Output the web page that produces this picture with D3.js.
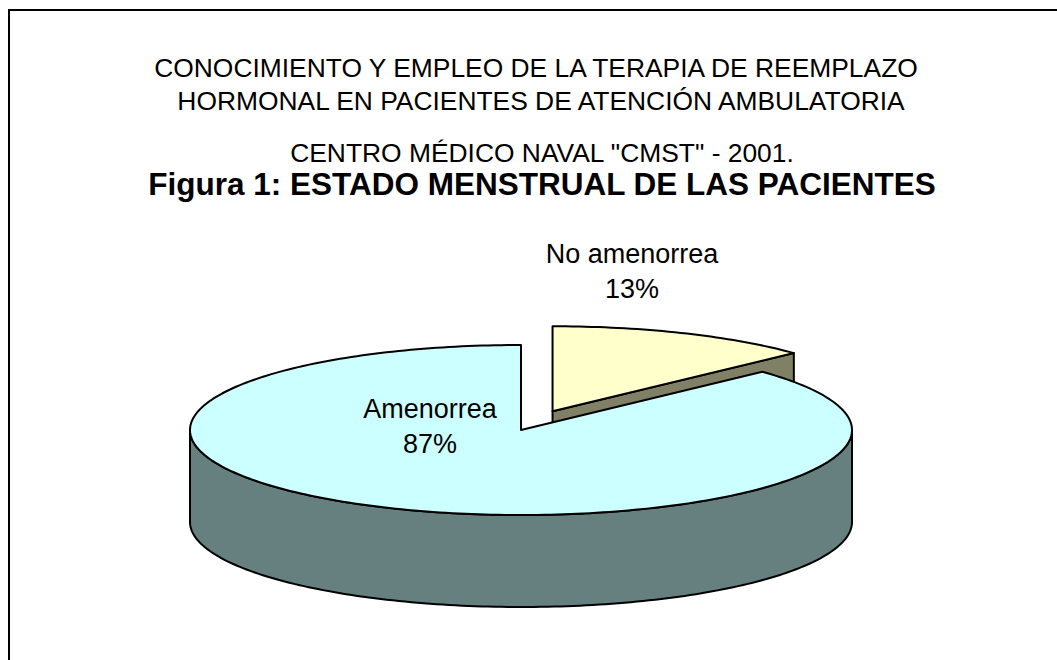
<!DOCTYPE html>
<html>
<head>
<meta charset="utf-8">
<script src="https://cdn.jsdelivr.net/npm/d3@7"></script>
<style>
  html, body { margin: 0; padding: 0; background: #fff; }
  svg { display: block; }
  text { font-family: "Liberation Sans", Arial, sans-serif; fill: #000; }
</style>
</head>
<body>
<svg id="chart" width="1057" height="660"></svg>
<script>
// ---- data ----
const categories = ["No amenorrea", "Amenorrea"];
const values = [13, 87];
const percentLabels = ["13%", "87%"];
const titleLines = [
  "CONOCIMIENTO Y EMPLEO DE LA TERAPIA DE REEMPLAZO",
  "HORMONAL EN PACIENTES DE ATENCIÓN AMBULATORIA",
  "CENTRO MÉDICO NAVAL \"CMST\" - 2001."
];
const mainTitle = "Figura 1: ESTADO MENSTRUAL DE LAS PACIENTES";
const topColors = ["#FFFFCC", "#CCFFFF"];
const sideColors = ["#808066", "#668080"];
const explode = [0.24, 0];

// ---- layout ----
const svg = d3.select("#chart");
svg.append("rect").attr("x", 9).attr("y", 10).attr("width", 1100).attr("height", 700)
  .attr("fill", "none").attr("stroke", "#000").attr("stroke-width", 2);

const cx = 521, cy = 430, rx = 331, ry = 85, depth = 92;

const pie = d3.pie().sort(null).value(d => d)(values);

const sx = d3.scaleLinear().domain([-1, 1]).range([cx - rx, cx + rx]);
const sy = d3.scaleLinear().domain([-1, 1]).range([cy - ry, cy + ry]);
function P(a, r, ox, oy, dz) {
  return [sx(ox + r * Math.sin(a)), sy(oy - r * Math.cos(a)) + (dz || 0)];
}
function arcPts(a0, a1, ox, oy, dz) {
  const n = Math.max(8, Math.ceil(Math.abs(a1 - a0) / 0.02));
  return d3.range(n + 1).map(i => P(a0 + (a1 - a0) * i / n, 1, ox, oy, dz));
}
const line = d3.line();

const slices = pie.map((d, i) => {
  const mid = (d.startAngle + d.endAngle) / 2;
  return {d, i, ox: explode[i] * Math.sin(mid), oy: -explode[i] * Math.cos(mid)};
});

const g = svg.append("g").attr("stroke", "#000").attr("stroke-width", 2).attr("stroke-linejoin", "round");

[0, 1].forEach(k => {
  const s = slices[k];
  const {d, ox, oy} = s;
  const c = P(0, 0, ox, oy);
  [[d.startAngle, +1], [d.endAngle, -1]].forEach(([a, sgn]) => {
    const nAngle = a + (sgn > 0 ? -Math.PI / 2 : Math.PI / 2);
    if (-Math.cos(nAngle) > 0.01) {
      const r1 = P(a, 1, ox, oy);
      const pts = [c, r1, [r1[0], r1[1] + depth], [c[0], c[1] + depth]];
      g.append("path").attr("d", line(pts) + "Z").attr("fill", sideColors[k]);
    }
  });
  const a0 = Math.max(d.startAngle, Math.PI / 2), a1 = Math.min(d.endAngle, 3 * Math.PI / 2);
  if (a1 > a0) {
    const top = arcPts(a0, a1, ox, oy, 0);
    const bot = arcPts(a1, a0, ox, oy, depth);
    g.append("path").attr("d", line(top.concat(bot)) + "Z").attr("fill", sideColors[k]);
  }
  const topPts = [c].concat(arcPts(d.startAngle, d.endAngle, ox, oy, 0));
  g.append("path").attr("d", line(topPts) + "Z").attr("fill", topColors[k]);
});

// ---- titles ----
const tg = svg.append("g").attr("text-anchor", "middle");
const titleY = [77, 110, 162];
const titleX = [536, 541, 542];
titleLines.forEach((t, i) => {
  tg.append("text").attr("x", titleX[i]).attr("y", titleY[i]).attr("font-size", 26.4).text(t);
});
tg.append("text").attr("x", 542).attr("y", 195).attr("font-size", 31.5).attr("font-weight", "bold").text(mainTitle);

// ---- data labels ----
const labelPos = [[632, 263], [430, 418]];
categories.forEach((c, i) => {
  const t = svg.append("text").attr("text-anchor", "middle").attr("font-size", 27);
  t.append("tspan").attr("x", labelPos[i][0]).attr("y", labelPos[i][1]).text(c);
  t.append("tspan").attr("x", labelPos[i][0]).attr("y", labelPos[i][1] + 35).text(percentLabels[i]);
});
</script>
</body>
</html>
